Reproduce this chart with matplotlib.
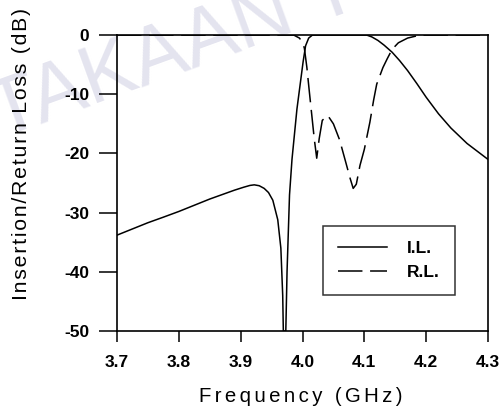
import matplotlib
matplotlib.use("Agg")
import matplotlib.pyplot as plt

# Insertion loss (solid)
il_freq = [3.700, 3.750, 3.774, 3.800, 3.850, 3.890, 3.905, 3.915, 3.922, 3.930,
           3.938, 3.945, 3.952, 3.960, 3.965, 3.968, 3.969, 3.973, 3.975, 3.979,
           3.983, 3.991, 3.996, 4.001, 4.005, 4.010, 4.016, 4.060, 4.104, 4.112,
           4.122, 4.132, 4.145, 4.157, 4.170, 4.185, 4.200, 4.220, 4.240, 4.266,
           4.300]
il_db = [-33.8, -31.7, -30.8, -29.8, -27.7, -26.2, -25.7, -25.4, -25.3, -25.45,
         -25.9, -26.6, -27.9, -31.2, -36.0, -44.0, -50.0, -50.0, -40.0, -27.0,
         -21.0, -12.5, -8.5, -4.5, -1.8, -0.5, 0.0, 0.0, 0.0, -0.3,
         -0.9, -1.7, -2.9, -4.3, -6.0, -8.2, -10.5, -13.3, -15.7, -18.3,
         -21.0]

# Return loss (dashed)
rl_freq = [3.700, 3.986, 3.995, 4.000, 4.003, 4.007, 4.011, 4.015, 4.019, 4.023,
           4.027, 4.032, 4.041, 4.050, 4.060, 4.070, 4.077, 4.082, 4.087, 4.093,
           4.100, 4.109, 4.115, 4.120, 4.130, 4.137, 4.145, 4.155, 4.170, 4.190,
           4.300]
rl_db = [0.0, 0.0, -0.5, -1.2, -2.2, -5.4, -9.5, -13.5, -17.5, -20.8,
         -17.5, -14.4, -13.6, -15.0, -17.7, -21.5, -24.2, -25.9, -25.2, -22.0,
         -19.3, -14.7, -11.0, -8.3, -5.5, -4.0, -2.4, -1.3, -0.5, 0.0,
         0.0]

x_ticks = [3.7, 3.8, 3.9, 4.0, 4.1, 4.2, 4.3]
x_tick_labels = ["3.7", "3.8", "3.9", "4.0", "4.1", "4.2", "4.3"]
y_ticks = [0, -10, -20, -30, -40, -50]
y_tick_labels = ["0", "-10", "-20", "-30", "-40", "-50"]

plt.rcParams['font.family'] = ['Liberation Sans', 'DejaVu Sans']

def spaced(s, sep='\u200a'):
    return sep.join(list(s))

fig = plt.figure(figsize=(5.0, 4.13), dpi=100)

# faint library watermark behind the chart
fig.text(-0.31, 1 - 195 / 413, 'PUSTAKAAN TUNKU', fontsize=58, color='#e4e4ef',
         rotation=20, rotation_mode='anchor', ha='left', va='baseline', zorder=-5)

ax = fig.add_axes([0.234, 0.1985, 0.742, 0.7165])
ax.set_facecolor('none')
ax.set_zorder(2)

ax.plot(il_freq, il_db, color='black', lw=1.1, label='I.L.')
ax.plot(rl_freq, rl_db, color='black', lw=1.1, linestyle=(0, (16, 5)), label='R.L.')

ax.set_xlim(3.7, 4.3)
ax.set_ylim(-50, 0)
ax.set_xticks(x_ticks)
ax.set_xticklabels(x_tick_labels, fontsize=12.5, fontweight='bold')
ax.set_yticks(y_ticks)
ax.set_yticklabels(y_tick_labels, fontsize=12.5, fontweight='bold')
ax.tick_params(axis='y', direction='out', length=13, width=1.1, pad=7)
ax.tick_params(axis='x', direction='out', length=8, width=1.1, pad=9)
for s in ax.spines.values():
    s.set_linewidth(1.2)

fig.text(301 / 500, 1 - 397 / 413, spaced('Frequency (GHz)', '\u2006'), fontsize=14.7,
         ha='center', va='center', zorder=3)
fig.text(22 / 500, 1 - 154 / 413, spaced('Insertion/Return Loss (dB)'), fontsize=15.3,
         ha='center', va='center', rotation=90, zorder=3)

leg = ax.legend(loc='lower right', bbox_to_anchor=(0.911, 0.122), frameon=True,
                fancybox=False, edgecolor='black', handlelength=2.8,
                prop={'weight': 'bold', 'size': 12.5}, borderpad=0.85,
                labelspacing=0.5, handletextpad=1.2, borderaxespad=0.0)
leg.get_frame().set_linewidth(1.1)

fig.savefig('out.png', dpi=100)
